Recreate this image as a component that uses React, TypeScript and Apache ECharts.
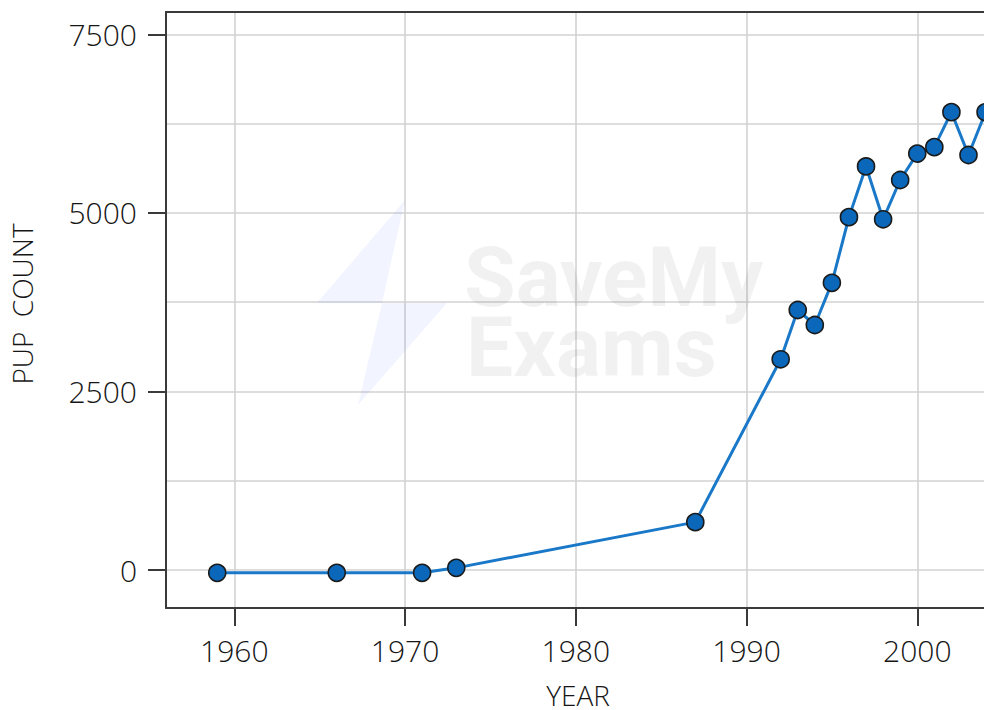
import React, { useEffect, useRef } from "react";
import * as echarts from "echarts";

const years = [1959, 1966, 1971, 1973, 1987, 1992, 1993, 1994, 1995, 1996, 1997, 1998, 1999, 2000, 2001, 2002, 2003, 2004];
const pupCounts = [-40, -40, -40, 30, 670, 2950, 3640, 3430, 4020, 4940, 5650, 4910, 5460, 5830, 5920, 6410, 5810, 6410];
const xTicks = [1960, 1970, 1980, 1990, 2000];
const yLabelTicks = [0, 2500, 5000, 7500];
const yGridTicks = [0, 1250, 2500, 3750, 5000, 6250, 7500];
const xName = "YEAR";
const yName = "PUP  COUNT";

const FONT = "Open Sans";
const AXIS_COLOR = "#3a3a3a";
const GRID_COLOR = "#d2d2d2";
const TEXT_COLOR = "#161616";

export default function App() {
  const ref = useRef<HTMLDivElement>(null);

  useEffect(() => {
    if (!ref.current) return;
    const chart = echarts.init(ref.current, undefined, { renderer: "svg" });
    const xMin = 1956;
    const xMax = 2010;
    const yMin = -532;
    const yMax = 7812;
    const labelStyle = {
      color: TEXT_COLOR,
      fontFamily: FONT,
      fontSize: 30,
      fontWeight: 300 as any,
      formatter: (v: number) => String(v),
    };
    chart.setOption({
      animation: false,
      backgroundColor: "#ffffff",
      grid: { left: 166, top: 12, width: 922, height: 596, outerBoundsMode: "none", containLabel: false },
      xAxis: [
        {
          type: "value",
          min: xMin,
          max: xMax,
          position: "bottom",
          axisLine: { show: true, onZero: false, lineStyle: { color: AXIS_COLOR, width: 2 } },
          axisTick: { show: true, length: 18, customValues: xTicks, lineStyle: { color: AXIS_COLOR, width: 2 } },
          axisLabel: { ...labelStyle, customValues: xTicks, margin: 27 },
          splitLine: { show: true, lineStyle: { color: GRID_COLOR, width: 1.6 } },
        },
        {
          type: "value",
          min: xMin,
          max: xMax,
          position: "top",
          axisLine: { show: true, onZero: false, lineStyle: { color: AXIS_COLOR, width: 2 } },
          axisTick: { show: false },
          axisLabel: { show: false },
          splitLine: { show: false },
        },
      ],
      yAxis: [
        {
          type: "value",
          min: yMin,
          max: yMax,
          position: "left",
          axisLine: { show: true, onZero: false, lineStyle: { color: AXIS_COLOR, width: 2 } },
          axisTick: { show: false, customValues: yGridTicks },
          axisLabel: { show: false },
          splitLine: { show: true, lineStyle: { color: GRID_COLOR, width: 1.6 } },
        },
        {
          type: "value",
          min: yMin,
          max: yMax,
          position: "left",
          axisLine: { show: false },
          axisTick: { show: true, length: 18, customValues: yLabelTicks, lineStyle: { color: AXIS_COLOR, width: 2 } },
          axisLabel: { ...labelStyle, customValues: yLabelTicks, margin: 29 },
          splitLine: { show: false },
        },
      ],
      graphic: [
        {
          type: "polygon",
          z: 1,
          silent: true,
          shape: {
            points: [
              [405, 200],
              [317, 303],
              [447, 303],
              [358, 405],
              [382, 303],
            ],
          },
          style: { fill: "rgba(70,110,255,0.07)" },
        },
        {
          type: "text",
          z: 1,
          silent: true,
          x: 464,
          y: 277,
          style: {
            text: "SaveMy",
            fontFamily: "Roboto",
            fontWeight: "bold",
            fontSize: 84,
            fill: "rgba(0,0,0,0.055)",
            textAlign: "left",
            textVerticalAlign: "middle",
          },
        },
        {
          type: "text",
          z: 1,
          silent: true,
          x: 466,
          y: 347,
          style: {
            text: "Exams",
            fontFamily: "Roboto",
            fontWeight: "bold",
            fontSize: 84,
            fill: "rgba(0,0,0,0.055)",
            textAlign: "left",
            textVerticalAlign: "middle",
          },
        },
        {
          type: "text",
          x: 578,
          y: 695,
          style: {
            text: xName,
            fontFamily: FONT,
            fontSize: 28,
            fontWeight: 300,
            fill: TEXT_COLOR,
            textAlign: "center",
            textVerticalAlign: "middle",
          },
        },
        {
          type: "text",
          x: 22,
          y: 304,
          rotation: Math.PI / 2,
          style: {
            text: yName,
            fontFamily: FONT,
            fontSize: 28,
            fontWeight: 300,
            fill: TEXT_COLOR,
            textAlign: "center",
            textVerticalAlign: "middle",
          },
        },
      ],
      series: [
        {
          type: "line",
          xAxisIndex: 0,
          yAxisIndex: 0,
          data: years.map((y, i) => [y, pupCounts[i]]),
          symbol: "circle",
          symbolSize: 17,
          showAllSymbol: true,
          clip: false,
          lineStyle: { color: "#1a78c8", width: 3 },
          itemStyle: { color: "#0a67b9", borderColor: "#1a1a1a", borderWidth: 1.6 },
          z: 3,
        },
      ],
    });
    return () => chart.dispose();
  }, []);

  return (
    <div style={{ position: "fixed", left: 0, top: 0, width: 984, height: 710, overflow: "hidden", background: "#fff" }}>
      <div ref={ref} style={{ width: 1100, height: 710 }} />
    </div>
  );
}
